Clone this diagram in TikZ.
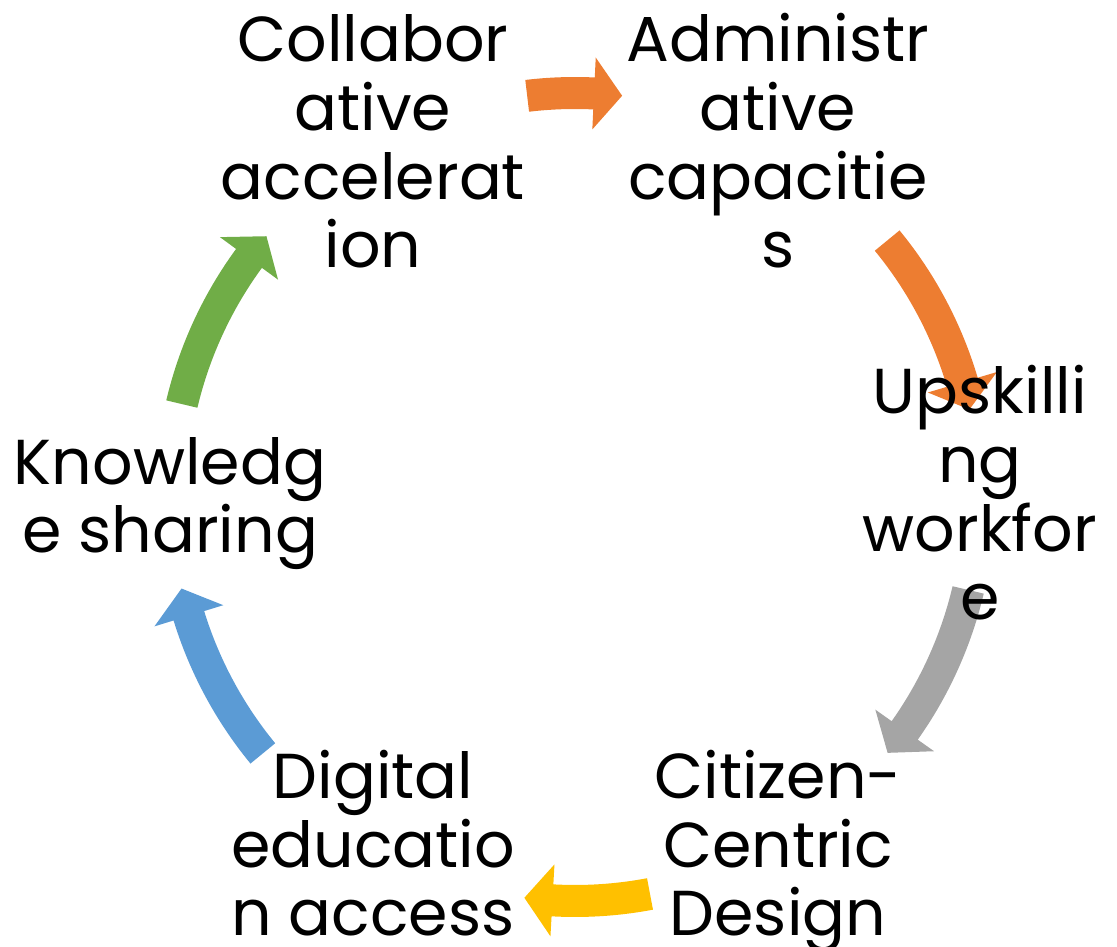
\documentclass[tikz,border=0pt]{standalone}
\usepackage{fontspec}
\setmainfont{Poppins}
\definecolor{corange}{HTML}{ED7D31}
\definecolor{cgray}{HTML}{A5A5A5}
\definecolor{cyellow}{HTML}{FFC000}
\definecolor{cblue}{HTML}{5B9BD5}
\definecolor{cgreen}{HTML}{70AD47}
\newcommand\carrow[3]{%
  \fill[#3] ([shift={(C)}]#1:420pt) arc[start angle=#1, end angle={#2+4}, radius=420pt]
    -- ([shift={(C)}]{#2+4}:440pt) -- ([shift={(C)}]#2:404pt) -- ([shift={(C)}]{#2+4}:368pt)
    -- ([shift={(C)}]{#2+4}:388pt) arc[start angle={#2+4}, end angle=#1, radius=388pt] -- cycle;}
\begin{document}
\begin{tikzpicture}[x=1pt,y=1pt,
  lbl/.style={align=center, inner sep=0pt, anchor=base, font=\fontsize{63.5}{68.7}\selectfont}]
\useasboundingbox (0,0) rectangle (1117,947);
\coordinate (C) at (575,450);
\carrow{96.8}{83.3}{corange}
\carrow{39.4}{12.5}{corange}
\carrow{-13.3}{-39.3}{cgray}
\carrow{-79.3}{-97.2}{cyellow}
\carrow{-140.6}{-166.9}{cblue}
\carrow{166.7}{139.8}{cgreen}
\node[lbl] (collab) at (373,679) {Collabor\\ative\\accelerat\\ion};
\node[lbl] (admin) at (778,679) {Administr\\ative\\capacitie\\s};
\node[lbl] (upskill) at (980,327) {Upskilli\\ng\\workfor\\e};
\node[lbl] (citizen) at (778,11) {Citizen-\\Centric\\Design};
\node[lbl] (digital) at (373,11) {Digital\\educatio\\n access};
\node[lbl] (knowledge) at (170,394) {Knowledg\\e sharing};
\end{tikzpicture}
\end{document}
